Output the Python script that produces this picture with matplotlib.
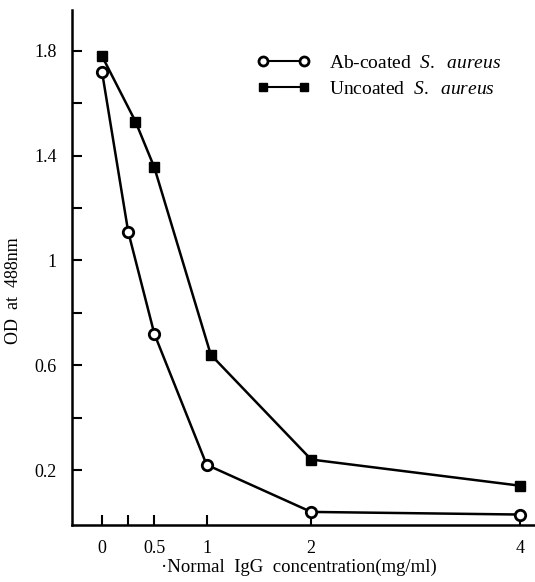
import matplotlib
matplotlib.use("Agg")
import matplotlib.pyplot as plt
from matplotlib.lines import Line2D

# valores
conc_ab = [0, 0.25, 0.5, 1, 2, 4]
od_ab = [1.72, 1.11, 0.72, 0.22, 0.04, 0.03]
conc_un = [0, 0.32, 0.5, 1.04, 2, 4]
od_un = [1.78, 1.53, 1.355, 0.64, 0.24, 0.14]

xticks = [0, 0.25, 0.5, 1, 2, 4]
xticklabels = ['0', '', '0.5', '1', '2', '4']
yticks = [0.2, 0.4, 0.6, 0.8, 1.0, 1.2, 1.4, 1.6, 1.8]
yticklabels = ['0.2', '', '0.6', '', '1', '', '1.4', '', '1.8']
nomes = ['Ab-coated', 'Uncoated']

plt.rcParams['font.family'] = ['Liberation Serif', 'DejaVu Serif']
plt.rcParams['mathtext.fontset'] = 'custom'
plt.rcParams['mathtext.it'] = 'Liberation Serif:italic'
plt.rcParams['mathtext.rm'] = 'Liberation Serif'

fig = plt.figure(figsize=(5.35, 5.82), dpi=100)
ax = fig.add_axes([0.1346, 0.0979, 0.8654, 0.885])

ax.plot(conc_ab, od_ab, color='black', lw=1.8, marker='o', ms=7.5,
        mfc='white', mec='black', mew=2, zorder=3)
ax.plot(conc_un, od_un, color='black', lw=1.8, marker='s', ms=6.5,
        mfc='black', mec='black', zorder=3)

ax.set_xlim(-0.287, 4.14)
ax.set_ylim(-0.01, 1.956)

for s in ['top', 'right']:
    ax.spines[s].set_visible(False)
for s in ['left', 'bottom']:
    ax.spines[s].set_linewidth(1.8)

ax.set_xticks(xticks)
ax.set_xticklabels(xticklabels)
ax.set_yticks(yticks)
ax.set_yticklabels(yticklabels)
ax.tick_params(direction='in', length=7, width=1.5, labelsize=13, pad=11)

ax.set_xlabel('\u00b7Normal  IgG  concentration(mg/ml)', fontsize=13.5)
ax.xaxis.set_label_coords(0.49, -0.066)
ax.set_ylabel('OD  at  488nm', fontsize=13)
ax.yaxis.set_label_coords(-0.108, 0.456)

# legenda
h1 = Line2D([], [], color='black', lw=1.5, marker='o', ms=6.5,
            mfc='white', mec='black', mew=2)
h2 = Line2D([], [], color='black', lw=1.5, marker='s', ms=6,
            mfc='black', mec='black')
labels = [n + '  ' + r'$\mathit{S.}\ \ \mathit{aureus}$' for n in nomes]
leg = fig.legend([h1, h2], labels,
                 loc='upper left', bbox_to_anchor=(257 / 535, 1 - 54 / 582),
                 frameon=False, fontsize=14, handlelength=2.7,
                 handletextpad=1.0, labelspacing=0.45, borderpad=0,
                 borderaxespad=0, numpoints=2)

fig.savefig('out.png', dpi=100)
